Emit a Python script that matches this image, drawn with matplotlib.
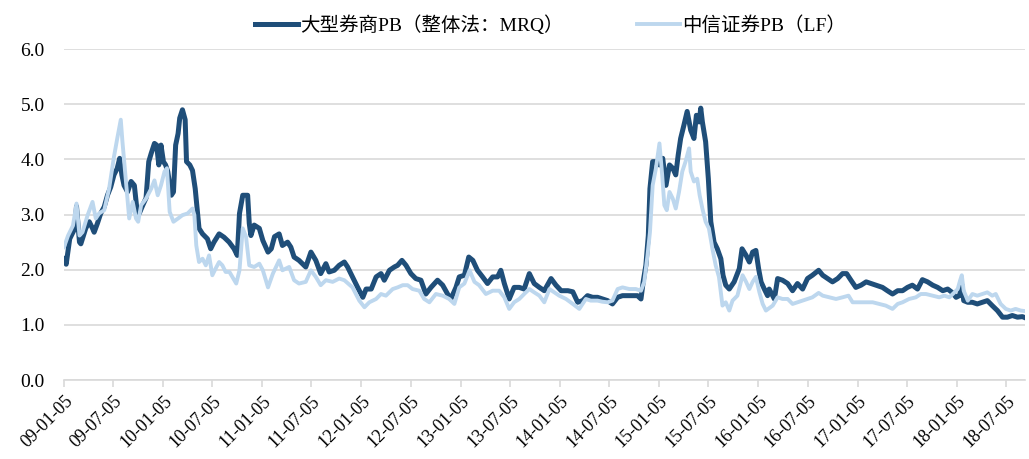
import matplotlib
matplotlib.use("Agg")
import matplotlib.pyplot as plt
import matplotlib.dates as mdates
import pandas as pd

# 大型券商PB（整体法：MRQ）
big_dates = [
    "2009-01-05", "2009-01-13", "2009-01-26", "2009-02-14", "2009-02-20", "2009-03-03", "2009-03-08",
    "2009-03-26", "2009-04-08", "2009-04-20", "2009-04-26", "2009-05-08", "2009-05-20", "2009-06-02",
    "2009-06-14", "2009-06-26", "2009-07-08", "2009-07-20", "2009-07-29", "2009-08-06", "2009-08-14",
    "2009-08-27", "2009-09-09", "2009-09-21", "2009-09-30", "2009-10-09", "2009-10-22", "2009-11-03",
    "2009-11-13", "2009-11-22", "2009-12-04", "2009-12-12", "2009-12-20", "2009-12-28", "2010-01-06",
    "2010-01-14", "2010-01-22", "2010-02-04", "2010-02-12", "2010-02-20", "2010-03-01", "2010-03-07",
    "2010-03-17", "2010-03-27", "2010-04-01", "2010-04-13", "2010-04-23", "2010-05-03", "2010-05-11",
    "2010-05-17", "2010-05-30", "2010-06-17", "2010-06-29", "2010-07-11", "2010-07-30", "2010-08-17",
    "2010-09-05", "2010-09-23", "2010-10-05", "2010-10-13", "2010-10-25", "2010-11-12", "2010-11-18",
    "2010-11-24", "2010-12-06", "2010-12-25", "2011-01-07", "2011-01-26", "2011-02-07", "2011-02-19",
    "2011-03-08", "2011-03-20", "2011-04-08", "2011-04-20", "2011-05-02", "2011-05-20", "2011-06-14",
    "2011-07-03", "2011-07-21", "2011-08-08", "2011-08-27", "2011-09-08", "2011-09-27", "2011-10-15",
    "2011-11-03", "2011-11-15", "2011-12-03", "2011-12-22", "2012-01-10", "2012-01-22", "2012-02-10",
    "2012-02-28", "2012-03-17", "2012-03-29", "2012-04-17", "2012-05-05", "2012-05-17", "2012-06-02",
    "2012-06-17", "2012-07-05", "2012-07-23", "2012-08-11", "2012-08-29", "2012-09-17", "2012-10-11",
    "2012-10-30", "2012-11-17", "2012-11-29", "2012-12-18", "2012-12-30", "2013-01-18", "2013-02-03",
    "2013-02-18", "2013-03-07", "2013-03-26", "2013-04-13", "2013-05-02", "2013-05-20", "2013-06-01",
    "2013-06-14", "2013-07-02", "2013-07-20", "2013-08-08", "2013-08-26", "2013-09-14", "2013-10-02",
    "2013-10-21", "2013-11-08", "2013-12-03", "2013-12-21", "2014-01-09", "2014-02-03", "2014-02-21",
    "2014-03-11", "2014-03-29", "2014-04-16", "2014-05-05", "2014-05-23", "2014-06-10", "2014-06-29",
    "2014-07-17", "2014-08-05", "2014-08-23", "2014-09-11", "2014-09-29", "2014-10-17", "2014-10-30",
    "2014-11-07", "2014-11-17", "2014-11-26", "2014-12-02", "2014-12-12", "2014-12-24", "2015-01-06",
    "2015-01-18", "2015-01-30", "2015-02-12", "2015-02-24", "2015-03-07", "2015-03-16", "2015-03-25",
    "2015-04-06", "2015-04-18", "2015-05-01", "2015-05-13", "2015-05-22", "2015-06-01", "2015-06-07",
    "2015-06-13", "2015-06-19", "2015-06-25", "2015-07-05", "2015-07-14", "2015-07-26", "2015-08-07",
    "2015-08-20", "2015-08-28", "2015-09-07", "2015-09-20", "2015-10-08", "2015-10-27", "2015-11-06",
    "2015-11-21", "2015-12-03", "2015-12-15", "2015-12-27", "2016-01-06", "2016-01-15", "2016-01-27",
    "2016-02-08", "2016-02-14", "2016-03-04", "2016-03-16", "2016-04-03", "2016-04-22", "2016-05-10",
    "2016-05-28", "2016-06-16", "2016-07-04", "2016-07-22", "2016-08-14", "2016-08-29", "2016-09-16",
    "2016-10-04", "2016-10-23", "2016-11-10", "2016-11-25", "2016-12-11", "2016-12-29", "2017-01-17",
    "2017-02-05", "2017-02-23", "2017-03-12", "2017-04-06", "2017-04-24", "2017-05-13", "2017-06-01",
    "2017-06-19", "2017-07-07", "2017-07-25", "2017-08-13", "2017-08-31", "2017-09-19", "2017-10-08",
    "2017-10-26", "2017-11-14", "2017-12-02", "2017-12-18", "2018-01-02", "2018-01-14", "2018-01-24",
    "2018-01-30", "2018-02-14", "2018-03-03", "2018-03-21", "2018-04-09", "2018-04-27", "2018-05-15",
    "2018-06-03", "2018-06-22", "2018-07-10", "2018-07-28", "2018-08-16", "2018-09-03", "2018-09-13",
]
big_pb = [
    2.20, 2.10, 2.56, 2.75, 3.15, 2.50, 2.47,
    2.75, 2.87, 2.75, 2.68, 2.84, 3.02, 3.14,
    3.35, 3.50, 3.72, 3.84, 4.02, 3.72, 3.53,
    3.41, 3.60, 3.53, 3.11, 3.02, 3.17, 3.30,
    3.96, 4.11, 4.29, 4.26, 3.90, 4.26, 3.96,
    3.90, 3.78, 3.35, 3.41, 4.26, 4.47, 4.75,
    4.90, 4.72, 3.96, 3.90, 3.80, 3.47, 3.05,
    2.75, 2.65, 2.56, 2.38, 2.50, 2.65, 2.59,
    2.50, 2.38, 2.26, 3.02, 3.35, 3.35, 2.84,
    2.62, 2.81, 2.75, 2.53, 2.32, 2.38, 2.60,
    2.65, 2.44, 2.50, 2.41, 2.23, 2.17, 2.05,
    2.32, 2.17, 1.93, 2.11, 1.96, 1.99, 2.08,
    2.14, 2.05, 1.87, 1.68, 1.50, 1.65, 1.65,
    1.87, 1.93, 1.81, 1.99, 2.05, 2.08, 2.17,
    2.08, 1.93, 1.84, 1.81, 1.56, 1.68, 1.81,
    1.72, 1.56, 1.47, 1.68, 1.87, 1.90, 2.23,
    2.17, 1.99, 1.87, 1.75, 1.87, 1.87, 1.99,
    1.75, 1.47, 1.68, 1.68, 1.65, 1.93, 1.75,
    1.68, 1.62, 1.84, 1.72, 1.62, 1.62, 1.60,
    1.41, 1.44, 1.53, 1.50, 1.50, 1.47, 1.44,
    1.38, 1.50, 1.53, 1.53, 1.53, 1.53, 1.47,
    1.78, 2.08, 2.62, 3.47, 3.96, 3.96, 3.90,
    4.02, 3.53, 3.90, 3.84, 3.72, 4.08, 4.38,
    4.62, 4.87, 4.53, 4.38, 4.80, 4.68, 4.93,
    4.68, 4.50, 4.32, 3.65, 2.87, 2.50, 2.38,
    2.20, 1.90, 1.72, 1.65, 1.78, 2.02, 2.38,
    2.26, 2.14, 2.32, 2.35, 2.02, 1.78, 1.65,
    1.53, 1.65, 1.47, 1.84, 1.81, 1.75, 1.62,
    1.75, 1.65, 1.84, 1.90, 1.99, 1.90, 1.84,
    1.78, 1.84, 1.93, 1.93, 1.81, 1.68, 1.72,
    1.78, 1.75, 1.72, 1.68, 1.62, 1.56, 1.62,
    1.62, 1.68, 1.72, 1.65, 1.82, 1.78, 1.72,
    1.68, 1.62, 1.65, 1.59, 1.50, 1.53, 1.72,
    1.44, 1.41, 1.41, 1.38, 1.41, 1.44, 1.35,
    1.26, 1.14, 1.14, 1.17, 1.14, 1.15, 1.13,
]

# 中信证券PB（LF）
citic_dates = [
    "2009-01-05", "2009-01-20", "2009-02-07", "2009-02-20", "2009-03-03", "2009-03-14", "2009-04-02",
    "2009-04-20", "2009-05-02", "2009-05-14", "2009-06-02", "2009-06-20", "2009-07-08", "2009-07-20",
    "2009-08-02", "2009-08-08", "2009-08-21", "2009-09-02", "2009-09-15", "2009-09-27", "2009-10-05",
    "2009-10-16", "2009-11-03", "2009-11-22", "2009-12-04", "2009-12-16", "2009-12-28", "2010-01-10",
    "2010-01-19", "2010-01-29", "2010-02-12", "2010-03-01", "2010-03-17", "2010-04-05", "2010-04-23",
    "2010-04-30", "2010-05-07", "2010-05-17", "2010-05-30", "2010-06-11", "2010-06-23", "2010-07-05",
    "2010-07-17", "2010-07-30", "2010-08-11", "2010-08-23", "2010-09-06", "2010-10-01", "2010-10-13",
    "2010-10-25", "2010-11-06", "2010-11-18", "2010-12-06", "2010-12-25", "2011-01-07", "2011-01-26",
    "2011-02-13", "2011-03-08", "2011-03-20", "2011-04-14", "2011-05-02", "2011-05-20", "2011-06-14",
    "2011-07-03", "2011-07-21", "2011-08-08", "2011-08-27", "2011-09-21", "2011-10-15", "2011-11-03",
    "2011-12-03", "2011-12-28", "2012-01-16", "2012-02-03", "2012-02-28", "2012-03-17", "2012-04-04",
    "2012-04-29", "2012-05-17", "2012-06-05", "2012-06-23", "2012-07-11", "2012-08-05", "2012-08-23",
    "2012-09-11", "2012-10-05", "2012-10-30", "2012-11-23", "2012-12-12", "2012-12-30", "2013-01-18",
    "2013-02-06", "2013-02-24", "2013-03-13", "2013-04-07", "2013-05-02", "2013-05-26", "2013-06-14",
    "2013-07-02", "2013-07-20", "2013-08-08", "2013-08-26", "2013-09-14", "2013-10-02", "2013-10-21",
    "2013-11-08", "2013-11-27", "2013-12-15", "2014-01-02", "2014-01-27", "2014-02-21", "2014-03-17",
    "2014-04-10", "2014-04-28", "2014-05-23", "2014-06-10", "2014-06-29", "2014-07-17", "2014-08-05",
    "2014-08-23", "2014-09-17", "2014-10-11", "2014-10-30", "2014-11-11", "2014-11-23", "2014-12-02",
    "2014-12-12", "2014-12-24", "2015-01-06", "2015-01-16", "2015-01-24", "2015-02-02", "2015-02-12",
    "2015-02-24", "2015-03-07", "2015-03-19", "2015-03-31", "2015-04-12", "2015-04-25", "2015-05-01",
    "2015-05-13", "2015-05-25", "2015-06-03", "2015-06-13", "2015-06-25", "2015-07-07", "2015-07-20",
    "2015-08-01", "2015-08-13", "2015-08-26", "2015-09-07", "2015-09-20", "2015-10-02", "2015-10-20",
    "2015-11-08", "2015-11-21", "2015-12-03", "2015-12-15", "2015-12-27", "2016-01-09", "2016-01-21",
    "2016-02-02", "2016-02-27", "2016-03-16", "2016-04-03", "2016-04-22", "2016-05-10", "2016-05-28",
    "2016-06-16", "2016-07-04", "2016-07-22", "2016-08-14", "2016-08-29", "2016-09-22", "2016-10-17",
    "2016-11-10", "2016-12-02", "2016-12-17", "2017-01-11", "2017-02-05", "2017-03-01", "2017-03-25",
    "2017-04-18", "2017-05-13", "2017-06-01", "2017-06-19", "2017-07-13", "2017-08-07", "2017-08-25",
    "2017-09-13", "2017-10-08", "2017-11-01", "2017-11-20", "2017-12-08", "2017-12-27", "2018-01-08",
    "2018-01-17", "2018-01-23", "2018-01-30", "2018-02-14", "2018-03-03", "2018-03-21", "2018-04-09",
    "2018-04-27", "2018-05-15", "2018-05-28", "2018-06-15", "2018-07-04", "2018-07-22", "2018-08-09",
    "2018-08-28", "2018-09-13",
]
citic_pb = [
    2.41, 2.62, 2.80, 3.20, 2.62, 2.68, 2.99,
    3.23, 2.93, 3.02, 3.08, 3.47, 4.05, 4.38,
    4.72, 4.33, 3.60, 2.93, 3.23, 2.93, 2.87,
    3.17, 3.29, 3.47, 3.62, 3.35, 3.53, 3.78,
    3.84, 3.05, 2.87, 2.93, 2.99, 3.02, 3.11,
    2.99, 2.44, 2.14, 2.20, 2.08, 2.26, 1.90,
    2.02, 2.14, 2.08, 1.96, 1.96, 1.75, 1.99,
    2.75, 2.60, 2.08, 2.05, 2.11, 1.99, 1.68,
    1.93, 2.17, 1.99, 2.05, 1.81, 1.75, 1.78,
    1.99, 1.87, 1.72, 1.81, 1.78, 1.84, 1.81,
    1.68, 1.44, 1.32, 1.41, 1.47, 1.56, 1.53,
    1.65, 1.68, 1.72, 1.72, 1.65, 1.62, 1.47,
    1.41, 1.56, 1.53, 1.47, 1.38, 1.68, 1.75,
    1.99, 1.78, 1.72, 1.56, 1.62, 1.62, 1.50,
    1.29, 1.41, 1.47, 1.56, 1.65, 1.59, 1.53,
    1.41, 1.65, 1.59, 1.53, 1.47, 1.38, 1.29,
    1.47, 1.44, 1.44, 1.42, 1.41, 1.44, 1.65,
    1.68, 1.65, 1.65, 1.62, 1.78, 2.26, 2.68,
    3.53, 3.84, 4.29, 3.72, 3.17, 3.08, 3.41,
    3.29, 3.11, 3.41, 3.78, 3.96, 4.20, 3.78,
    3.60, 3.65, 3.35, 3.11, 2.87, 2.75, 2.38,
    2.08, 1.87, 1.35, 1.41, 1.26, 1.44, 1.53,
    1.90, 1.78, 1.65, 1.78, 1.87, 1.59, 1.38,
    1.26, 1.35, 1.50, 1.47, 1.47, 1.38, 1.41,
    1.44, 1.47, 1.50, 1.58, 1.53, 1.50, 1.47,
    1.50, 1.53, 1.41, 1.41, 1.41, 1.41, 1.38,
    1.35, 1.29, 1.38, 1.41, 1.47, 1.50, 1.56,
    1.56, 1.53, 1.50, 1.53, 1.50, 1.59, 1.65,
    1.81, 1.90, 1.62, 1.44, 1.56, 1.53, 1.56,
    1.59, 1.53, 1.56, 1.38, 1.29, 1.26, 1.29,
    1.26, 1.25,
]

# half-year ticks on the 5th of January and July
tick_dates = [f"{y}-{m}-05" for y in range(2009, 2019) for m in ("01", "07")]
y_ticks = [0, 1, 2, 3, 4, 5, 6]

dark_blue = "#1f4e79"
light_blue = "#bdd7ee"
serif = "Liberation Serif"

fig = plt.figure(figsize=(10.29, 4.59), dpi=100)
ax = fig.add_axes([0.0622, 0.172, 0.934, 0.721])

ax.plot(pd.to_datetime(big_dates), big_pb, color=dark_blue, lw=3.6,
        solid_joinstyle="round", label="大型券商PB（整体法：MRQ）", zorder=3)
ax.plot(pd.to_datetime(citic_dates), citic_pb, color=light_blue, lw=2.8,
        solid_joinstyle="round", label="中信证券PB（LF）", zorder=4)

ax.set_ylim(0, 6)
ax.set_yticks(y_ticks)
ax.set_yticklabels([f"{v:.1f}" for v in y_ticks], fontfamily=serif, fontsize=14)
ax.set_xlim(pd.Timestamp(big_dates[0]), pd.Timestamp(big_dates[-1]))
ax.set_xticks(pd.to_datetime(tick_dates))
ax.xaxis.set_major_formatter(mdates.DateFormatter("%y-%m-%d"))
for lbl in ax.get_xticklabels():
    lbl.set_fontfamily(serif)
    lbl.set_fontsize(13)
    lbl.set_rotation(45)
    lbl.set_ha("right")
    lbl.set_va("top")
    lbl.set_rotation_mode("anchor")

ax.grid(axis="y", color="#d9d9d9", lw=1.2)
ax.set_axisbelow(True)
for side in ["left", "right", "top"]:
    ax.spines[side].set_visible(False)
ax.spines["bottom"].set_color("#d9d9d9")
ax.spines["bottom"].set_linewidth(1.2)
ax.tick_params(axis="y", length=0, pad=14)
ax.tick_params(axis="x", direction="out", length=5, color="#d9d9d9", width=1.2, pad=4)

fig.legend(loc="upper center", bbox_to_anchor=(0.535, 1.005), ncol=2, frameon=False,
           prop={"family": [serif, "Noto Sans CJK SC"], "size": 14},
           handlelength=2.2, handletextpad=0.1, columnspacing=3.8)

fig.savefig("out.png", dpi=100)
